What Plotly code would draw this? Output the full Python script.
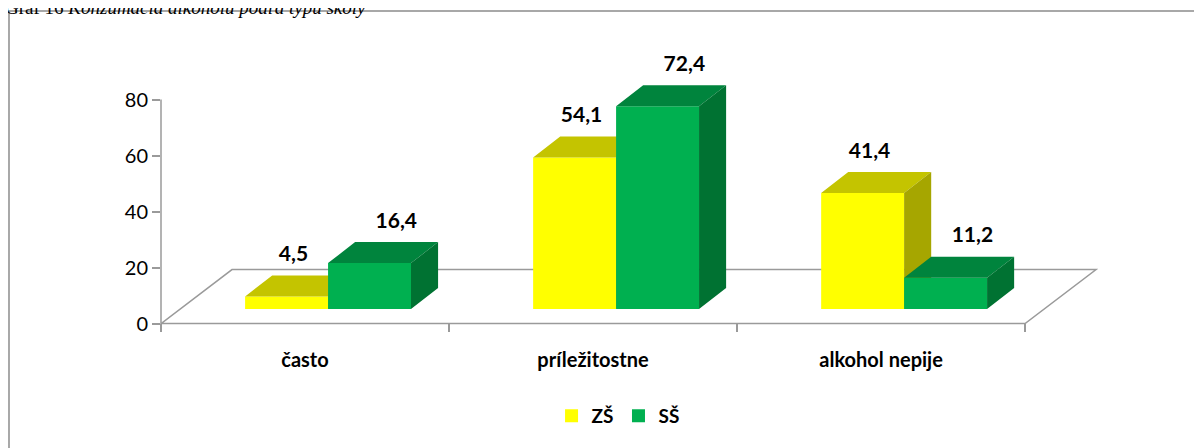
import plotly.graph_objects as go

categories = ["často", "príležitostne", "alkohol nepije"]
zs_values = [4.5, 54.1, 41.4]
ss_values = [16.4, 72.4, 11.2]
y_ticks = [0, 20, 40, 60, 80]

# pseudo-3D geometry (data units: 1 category = 1 on x, y in %)
BASE = 5.2          # lift of the bar front faces above the floor front edge
BAR_W = 0.288
DEPTH_X, DEPTH_Y = 0.094, 7.5
FLOOR_X, FLOOR_Y = 0.2465, 19.3
SERIES = [
    # name, values, front-centre offset, label offset, front, top, side
    ("ZŠ", zs_values, -0.064, -0.04, "#FFFF00", "#C4C400", "#A6A600"),
    ("SŠ", ss_values, 0.224, 0.317, "#00B050", "#00843D", "#007232"),
]
AXIS_COLOR = "#9A9A9A"
FONT = "Lato"


def faces(xc, v):
    x0, x1 = xc - BAR_W / 2, xc + BAR_W / 2
    top = BASE + v
    front = [(x0, BASE), (x0, top), (x1, top), (x1, BASE)]
    lid = [(x0, top), (x0 + DEPTH_X, top + DEPTH_Y), (x1 + DEPTH_X, top + DEPTH_Y), (x1, top)]
    side = [(x1, BASE), (x1, top), (x1 + DEPTH_X, top + DEPTH_Y), (x1 + DEPTH_X, BASE + DEPTH_Y)]
    return front, lid, side


def poly_trace(polys, color):
    xs, ys = [], []
    for p in polys:
        xs += [pt[0] for pt in p] + [p[0][0], None]
        ys += [pt[1] for pt in p] + [p[0][1], None]
    return go.Scatter(x=xs, y=ys, mode="lines", fill="toself", fillcolor=color,
                      line=dict(width=0, color=color), hoverinfo="skip", showlegend=False)


fig = go.Figure()
for name, values, off, _, c_front, c_top, c_side in SERIES:
    all_faces = [faces(i + off, v) for i, v in enumerate(values)]
    fig.add_trace(poly_trace([f[0] for f in all_faces], c_front))
    fig.add_trace(poly_trace([f[1] for f in all_faces], c_top))
    fig.add_trace(poly_trace([f[2] for f in all_faces], c_side))

for name, values, _, lab_off, *_ in SERIES:
    fig.add_trace(go.Scatter(
        x=[i + lab_off for i in range(len(values))],
        y=[v + BASE + DEPTH_Y + 7 for v in values],
        mode="text",
        text=[f"{v:.1f}".replace(".", ",") for v in values],
        textfont=dict(family=FONT, size=21, color="black", weight="bold"),
        cliponaxis=False, showlegend=False, hoverinfo="skip",
    ))

# legend entries
for name, _, _, _, c_front, *_ in SERIES:
    fig.add_trace(go.Scatter(x=[None], y=[None], mode="markers", name=name,
                             marker=dict(symbol="square", size=13, color=c_front)))

n = len(categories)
x_left, x_right = -0.5, n - 0.5
floor_path = (f"M {x_left},0 L {x_left + FLOOR_X},{FLOOR_Y} "
              f"L {x_right + FLOOR_X},{FLOOR_Y} L {x_right},0 Z")
fig.add_shape(type="path", path=floor_path, xref="x", yref="y", layer="below",
              line=dict(color=AXIS_COLOR, width=1.5))
fig.add_shape(type="line", xref="paper", yref="y", x0=0, x1=0, y0=-3, y1=y_ticks[-1],
              line=dict(color=AXIS_COLOR, width=1.5))
# outer chart border
fig.add_shape(type="rect", xref="paper", yref="paper", x0=-0.1449, x1=1.1, y0=-0.5, y1=1.0288,
              line=dict(color="#8C8C8C", width=1.5), layer="below")

fig.add_annotation(
    text="Graf 16 <i>Konzumácia alkoholu podľa typu školy</i>",
    xref="paper", yref="paper", x=-0.1506, y=1.0385, xanchor="left", yanchor="middle",
    showarrow=False, font=dict(family="Liberation Serif", size=19, color="black"),
)

fig.update_layout(
    width=1202, height=448,
    margin=dict(l=153, r=0, t=12, b=124),
    plot_bgcolor="white", paper_bgcolor="white",
    showlegend=True,
    legend=dict(orientation="h", x=0.4357, xanchor="center", y=-0.269, yanchor="middle",
                font=dict(family=FONT, size=19, color="black", weight="bold"),
                itemclick=False),
    xaxis=dict(range=[-0.5, 3.142], tickvals=list(range(n)), ticktext=categories,
               ticks="", showgrid=False, zeroline=False, showline=False, automargin=False,
               tickfont=dict(family=FONT, size=20, color="black", weight="bold"),
               ticklabelstandoff=14,
               minor=dict(tickvals=[i - 0.5 for i in range(n + 1)], ticks="inside",
                          ticklen=8, tickcolor=AXIS_COLOR, tickwidth=1.5, showgrid=False)),
    yaxis=dict(range=[-3, 108.43], tickvals=y_ticks, ticks="outside", ticklen=8,
               tickcolor=AXIS_COLOR, tickwidth=1.5, showgrid=False, zeroline=False,
               showline=False, automargin=False,
               tickfont=dict(family=FONT, size=20, color="black")),
)

fig.write_html("out.html")
